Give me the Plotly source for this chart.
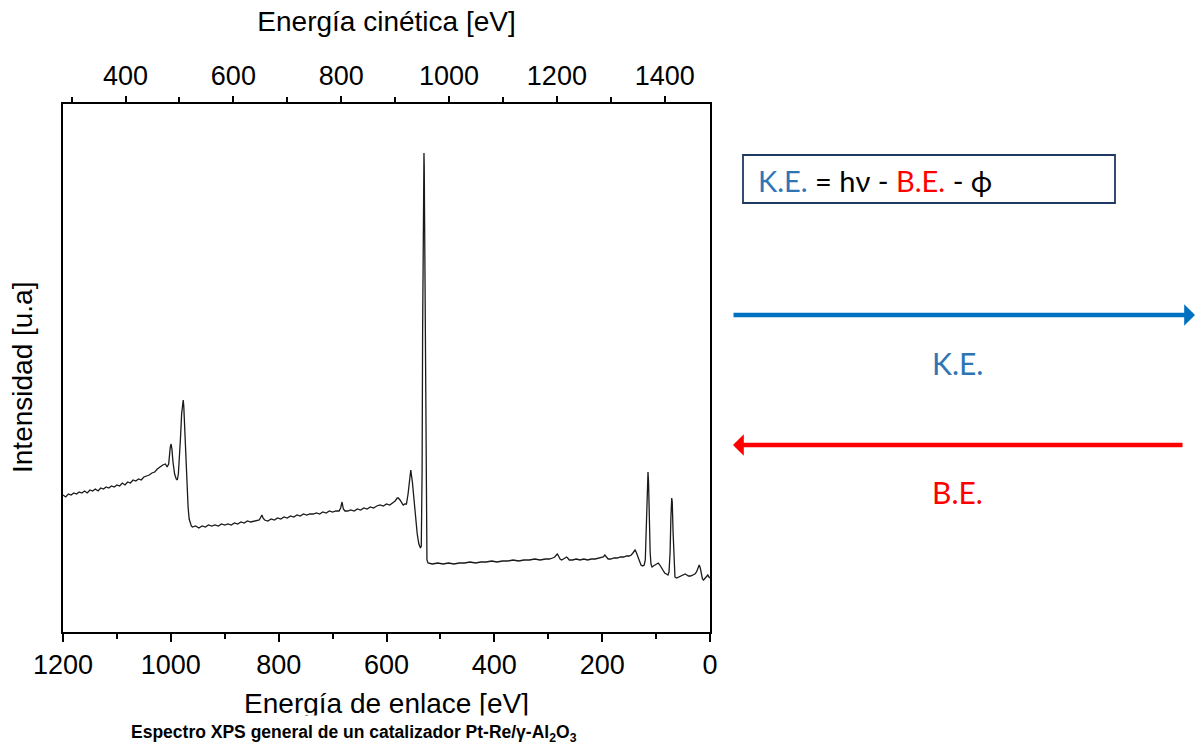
import plotly.graph_objects as go

# Survey XPS spectrum: binding energy (eV) and intensity (arbitrary units)
be_ev = [
    1200, 1195, 1190, 1185, 1180, 1175, 1170, 1165, 1160, 1155, 1150, 1145, 1140, 1135,
    1130, 1125, 1120, 1115, 1110, 1105, 1100, 1095, 1090, 1085, 1080, 1075, 1070, 1065,
    1060, 1055, 1050, 1045, 1040, 1035, 1030, 1025, 1020, 1015, 1010, 1007, 1004,
    1003, 1001, 999.5, 998, 996, 993, 990, 988, 986, 984, 982, 980, 978, 977, 976, 974,
    972, 970, 968, 966, 964, 962, 960,
    954, 948, 942, 936, 930, 924, 918, 912, 906, 900, 894, 888, 882, 876, 870, 864, 858,
    852, 846, 840, 836, 833, 831, 829, 826, 820, 814, 808, 802, 796, 790, 784, 778, 772,
    766, 760, 754, 748, 742, 736, 730, 724, 718, 712, 706, 700, 694, 688, 685, 682.5,
    680, 677, 672, 666, 660, 654, 648, 642, 636, 630, 624, 618, 612, 606, 600, 594, 588,
    584, 580, 578, 575, 572, 569, 566, 563, 560, 557, 555, 552, 549, 546, 543, 540, 537,
    535.5, 534, 533, 532, 531, 530.5, 530, 529, 528, 527, 526, 525, 523,
    515, 505, 495, 485, 475, 465, 455, 445, 435, 425, 415, 405, 395, 385, 375, 365, 355,
    345, 335, 325, 315, 305, 298, 292, 288, 285, 283, 281, 278, 275, 272, 269, 266, 264,
    261, 255, 248, 241, 234, 227, 220, 213, 206, 201, 198, 195, 192, 189, 184, 178, 172,
    166, 160, 155, 150, 146, 143, 141, 139, 137, 134, 131, 128, 125, 122, 120, 118, 116.5,
    115, 114, 112.5, 111, 109.5, 107.5, 105, 102, 99, 96, 93, 90, 87, 84, 81, 78, 76, 74,
    72.5, 71, 70, 68.5, 67, 65, 62, 58, 54, 50, 46, 43, 40, 36, 32, 28, 25, 22, 20, 18,
    16, 14, 12, 9, 6, 4, 2, 0,
]
intensity = [
    137, 135, 138, 137, 139, 138, 140, 139, 141, 139, 142, 141, 143, 141,
    144, 143, 145, 144, 146, 145, 147, 146, 149, 147, 150, 149, 152, 151,
    153, 152, 155, 156, 157, 159, 160, 163, 165, 167, 168, 165, 168,
    175, 185, 188, 183, 170, 158, 153, 152, 158, 172, 195, 218, 231, 232, 226, 200,
    170, 145, 125, 113, 108, 106, 105,
    106, 104, 106, 105, 107, 106, 107, 106, 108, 107, 108, 107, 109, 108, 110, 109, 111,
    110, 111, 112, 112, 115, 117, 114, 112, 111, 113, 112, 114, 113, 115, 114, 116, 115,
    117, 116, 118, 117, 118, 118, 119, 118, 120, 119, 121, 120, 121, 121, 124, 130,
    123, 121, 121, 122, 121, 123, 122, 124, 123, 125, 124, 126, 127, 126, 128, 127, 129,
    131, 134, 134, 132, 129, 127, 128, 128, 138, 155, 162, 150, 130, 112, 98, 88, 84,
    86, 160, 300, 420, 470, 479, 465, 380, 250, 140, 90, 72, 69,
    68, 69, 68, 69, 68, 69, 69, 70, 69, 70, 70, 71, 70, 71, 71, 72, 71,
    72, 72, 73, 72, 73, 73, 74, 75, 77, 78, 76, 73, 72, 73, 74, 75, 74,
    72, 72, 73, 72, 73, 72, 73, 73, 74, 74, 75, 77, 75, 73, 73, 74, 74,
    75, 75, 76, 76, 77, 79, 81, 82, 80, 75, 70, 67, 66, 67, 72, 100, 140,
    160, 150, 110, 80, 68, 65, 66, 67, 68, 69, 67, 64, 61, 59, 58, 57, 60, 80,
    115, 134, 130, 100, 70, 55, 54, 55, 56, 57, 58, 57, 56, 56, 57, 58, 60, 65, 67, 64,
    58, 53, 52, 54, 56, 57, 55, 54,
]

# Photon energy minus work function used for the kinetic-energy scale
hv_minus_phi = 1484
kinetic_ev = [hv_minus_phi - b for b in be_ev]

be_range = [1200, 0]
ke_range = [hv_minus_phi - be_range[0], hv_minus_phi - be_range[1]]
y_range = [0, 528]

axis_font = dict(family="Liberation Sans, Arial, sans-serif", size=27, color="black")
title_font = dict(family="Liberation Sans, Arial, sans-serif", size=28, color="black")
note_font = "Lato, Calibri, 'Noto Sans', sans-serif"

fig = go.Figure()
fig.add_trace(go.Scatter(
    x=be_ev, y=intensity, mode="lines",
    line=dict(color="#1a1a1a", width=1.3),
    xaxis="x", yaxis="y", showlegend=False,
))
# Same spectrum on the kinetic-energy axis (invisible, only anchors the top scale)
fig.add_trace(go.Scatter(
    x=kinetic_ev, y=intensity, mode="lines",
    line=dict(color="rgba(0,0,0,0)", width=0),
    xaxis="x2", yaxis="y", showlegend=False, hoverinfo="skip",
))

tick_common = dict(
    ticks="outside", tickcolor="black", tickwidth=1.5,
    showline=True, linecolor="black", linewidth=1.6,
    showgrid=False, zeroline=False, tickfont=axis_font,
    tick0=0, dtick=200,
)

fig.update_layout(
    width=1196, height=748,
    margin=dict(l=63, r=486, t=104, b=116),
    paper_bgcolor="white", plot_bgcolor="white",
    xaxis=dict(
        range=be_range, ticklen=8,
        minor=dict(dtick=100, ticklen=5, ticks="outside", tickcolor="black", tickwidth=1.5),
        title=dict(text="Energía de enlace [eV]", font=title_font, standoff=14),
        **tick_common,
    ),
    xaxis2=dict(
        range=ke_range, overlaying="x", side="top", anchor="y", ticklen=6,
        minor=dict(dtick=100, ticklen=5, ticks="outside", tickcolor="black", tickwidth=1.5),
        title=dict(text="Energía cinética [eV]", font=title_font, standoff=22),
        **tick_common,
    ),
    yaxis=dict(
        range=y_range, showticklabels=False, ticks="",
        showline=True, mirror=True, linecolor="black", linewidth=1.6,
        showgrid=False, zeroline=False,
    ),
)

# Paper-coordinate helpers based on the plot frame (pixels)
x0_px, x1_px, y0_px, y1_px = 63, 710, 632, 104
def px(x):
    return (x - x0_px) / (x1_px - x0_px)
def py(y):
    return (y0_px - y) / (y0_px - y1_px)

# Vertical axis title
fig.add_annotation(
    xref="paper", yref="paper", x=px(22), y=py(378), xanchor="center", yanchor="middle",
    text="Intensidad [u.a]", textangle=-90, font=title_font, showarrow=False,
)

# Caption under the chart
fig.add_annotation(
    xref="paper", yref="paper", x=px(354), y=py(733), xanchor="center", yanchor="middle",
    text="<b>Espectro XPS general de un catalizador Pt-Re/γ-Al<sub>2</sub>O<sub>3</sub></b>",
    font=dict(family="Liberation Sans, Arial, sans-serif", size=17.5, color="black"),
    showarrow=False, bgcolor="white", borderpad=6,
)

# Relation between kinetic and binding energy
fig.add_shape(
    type="rect", xref="paper", yref="paper",
    x0=px(743), x1=px(1115), y0=py(203), y1=py(155),
    line=dict(color="#203864", width=1.8), fillcolor="white",
)
fig.add_annotation(
    xref="paper", yref="paper", x=px(756), y=py(180), xanchor="left", yanchor="middle",
    text="<span style='color:#2E75B6'>K.E.</span> = hν - "
         "<span style='color:#FF0000'>B.E.</span> - ϕ",
    font=dict(family=note_font, size=29, color="black"), showarrow=False,
)

# Direction arrows for each energy scale
fig.add_annotation(
    xref="paper", yref="paper", x=px(1197), y=py(315), ax=732 - 1197, ay=0,
    text="", showarrow=True, arrowhead=1, arrowsize=0.8, arrowwidth=4.5,
    arrowcolor="#0070C0", standoff=0, startstandoff=0,
)
fig.add_annotation(
    xref="paper", yref="paper", x=px(733), y=py(445), ax=1184 - 733, ay=0,
    text="", showarrow=True, arrowhead=1, arrowsize=0.8, arrowwidth=4.5,
    arrowcolor="#FF0000", standoff=0, startstandoff=0,
)
fig.add_annotation(
    xref="paper", yref="paper", x=px(957), y=py(363), xanchor="center", yanchor="middle",
    text="K.E.", font=dict(family=note_font, size=30, color="#2E75B6"), showarrow=False,
)
fig.add_annotation(
    xref="paper", yref="paper", x=px(957), y=py(492), xanchor="center", yanchor="middle",
    text="B.E.", font=dict(family=note_font, size=30, color="#FF0000"), showarrow=False,
)

fig.write_html("out.html")
